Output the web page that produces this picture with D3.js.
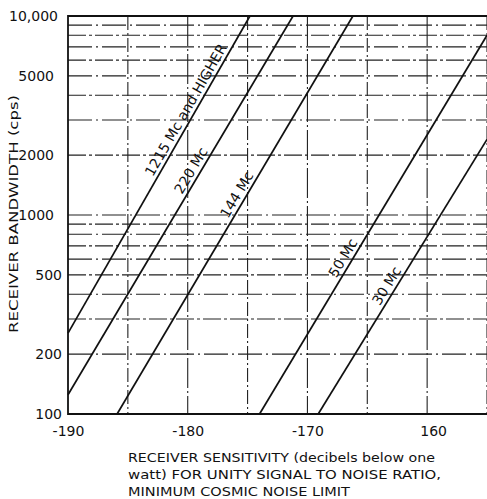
<!DOCTYPE html>
<html>
<head>
<meta charset="utf-8">
<script src="https://cdn.jsdelivr.net/npm/d3@7"></script>
<style>
  html, body { margin: 0; padding: 0; background: #fff; }
  svg { display: block; }
  text { font-family: "DejaVu Sans", sans-serif; fill: #111; }
</style>
</head>
<body>
<svg id="chart" width="487" height="499"></svg>
<script>
// ---- data ----
const categories = ["1215 Mc and HIGHER", "220 Mc", "144 Mc", "50 Mc", "30 Mc"];
const sensStart  = [-190, -190, -185.9, -174.0, -169.1];   // dB
const bwStart    = [255, 125, 100, 100, 100];               // cps
const sensEnd    = [-174.8, -171.2, -166.2, -155, -155];   // dB
const bwEnd      = [10000, 10000, 10000, 8000, 2400];       // cps
const labelAt    = [0.69, 0.58, 0.54, 0.40, 0.45];          // fraction along line

const xTickValues = [-190, -180, -170, -160];
const xTickLabels = ["-190", "-180", "-170", "160"];
const yTickValues = [100, 200, 500, 1000, 2000, 5000, 10000];
const yTickLabels = ["100", "200", "500", "1000", "2000", "5000", "10,000"];
const xGridValues = [-185, -180, -175, -170, -165, -160, -155];
const yGridValues = [200, 300, 400, 500, 600, 700, 800, 900,
                     1000, 2000, 3000, 4000, 5000, 6000, 7000, 8000, 9000];

// ---- layout ----
const L = 68, T = 16, R = 487, B = 414;
const svg = d3.select("#chart");
const x = d3.scaleLinear().domain([-190, -155]).range([L, R]);
const y = d3.scaleLog().domain([100, 10000]).range([B, T]);

// gridlines
svg.append("g").selectAll("line").data(yGridValues).join("line")
  .attr("x1", L).attr("x2", R)
  .attr("y1", d => y(d)).attr("y2", d => y(d))
  .attr("stroke", "#222").attr("stroke-width", 1.1)
  .attr("stroke-dasharray", (d, i) => i % 2 ? "18,3,3,3" : "24,4,2,4");

svg.append("g").selectAll("line").data(xGridValues).join("line")
  .attr("x1", d => x(d)).attr("x2", d => x(d))
  .attr("y1", T).attr("y2", B)
  .attr("stroke", "#222").attr("stroke-width", 1.1)
  .attr("stroke-dasharray", d => (d % 10 === 0) ? "30,3,2,3" : "14,3,2,3");

// frame (left, top, bottom)
svg.append("path")
  .attr("d", `M${R},${T}H${L}V${B}H${R}`)
  .attr("fill", "none").attr("stroke", "#111").attr("stroke-width", 1.8);

// data lines
const lineGen = d3.line().x(d => x(d[0])).y(d => y(d[1]));
const series = categories.map((c, i) => ({
  name: c,
  pts: [[sensStart[i], bwStart[i]], [sensEnd[i], bwEnd[i]]],
  t: labelAt[i]
}));
svg.append("g").selectAll("path").data(series).join("path")
  .attr("d", d => lineGen(d.pts))
  .attr("fill", "none").attr("stroke", "#111").attr("stroke-width", 1.7);

// line labels
svg.append("g").selectAll("text").data(series).join("text")
  .attr("transform", d => {
    const x1 = x(d.pts[0][0]), y1 = y(d.pts[0][1]);
    const x2 = x(d.pts[1][0]), y2 = y(d.pts[1][1]);
    const px = x1 + (x2 - x1) * d.t, py = y1 + (y2 - y1) * d.t;
    const ang = Math.atan2(y2 - y1, x2 - x1) * 180 / Math.PI;
    return `translate(${px},${py}) rotate(${ang})`;
  })
  .attr("dy", -4)
  .attr("text-anchor", "middle")
  .attr("font-size", 14)
  .text(d => d.name);

// axes
const yAxis = d3.axisLeft(y).tickValues(yTickValues).tickSize(0).tickPadding(6)
  .tickFormat((d, i) => yTickLabels[i]);
const gy = svg.append("g").attr("transform", `translate(${L},0)`).call(yAxis);
gy.select(".domain").remove();
gy.selectAll("text").attr("font-size", 14).attr("font-family", "DejaVu Sans")
  .attr("dx", d => (d >= 1000 && d < 10000) ? -8 : (d === 10000 ? -4 : 0));

const xAxis = d3.axisBottom(x).tickValues(xTickValues).tickSize(0).tickPadding(12)
  .tickFormat((d, i) => xTickLabels[i]);
const gx = svg.append("g").attr("transform", `translate(0,${B})`).call(xAxis);
gx.select(".domain").remove();
gx.selectAll("text").attr("font-size", 14).attr("font-family", "DejaVu Sans")
  .attr("dx", d => d === -160 ? 6 : 0);

// axis titles
svg.append("text")
  .attr("transform", `translate(18,${214}) rotate(-90)`)
  .attr("text-anchor", "middle")
  .attr("font-size", 12.5)
  .attr("textLength", 238).attr("lengthAdjust", "spacingAndGlyphs")
  .text("RECEIVER BANDWIDTH (cps)");

const titleLines = ["RECEIVER SENSITIVITY (decibels below one",
                    "watt) FOR UNITY SIGNAL TO NOISE RATIO,",
                    "MINIMUM COSMIC NOISE LIMIT"];
const titleWidths = [307, 313, 222];
svg.append("g").selectAll("text").data(titleLines).join("text")
  .attr("x", 128).attr("y", (d, i) => 462 + i * 17)
  .attr("font-size", 12.5)
  .attr("textLength", (d, i) => titleWidths[i]).attr("lengthAdjust", "spacingAndGlyphs")
  .text(d => d);
</script>
</body>
</html>
